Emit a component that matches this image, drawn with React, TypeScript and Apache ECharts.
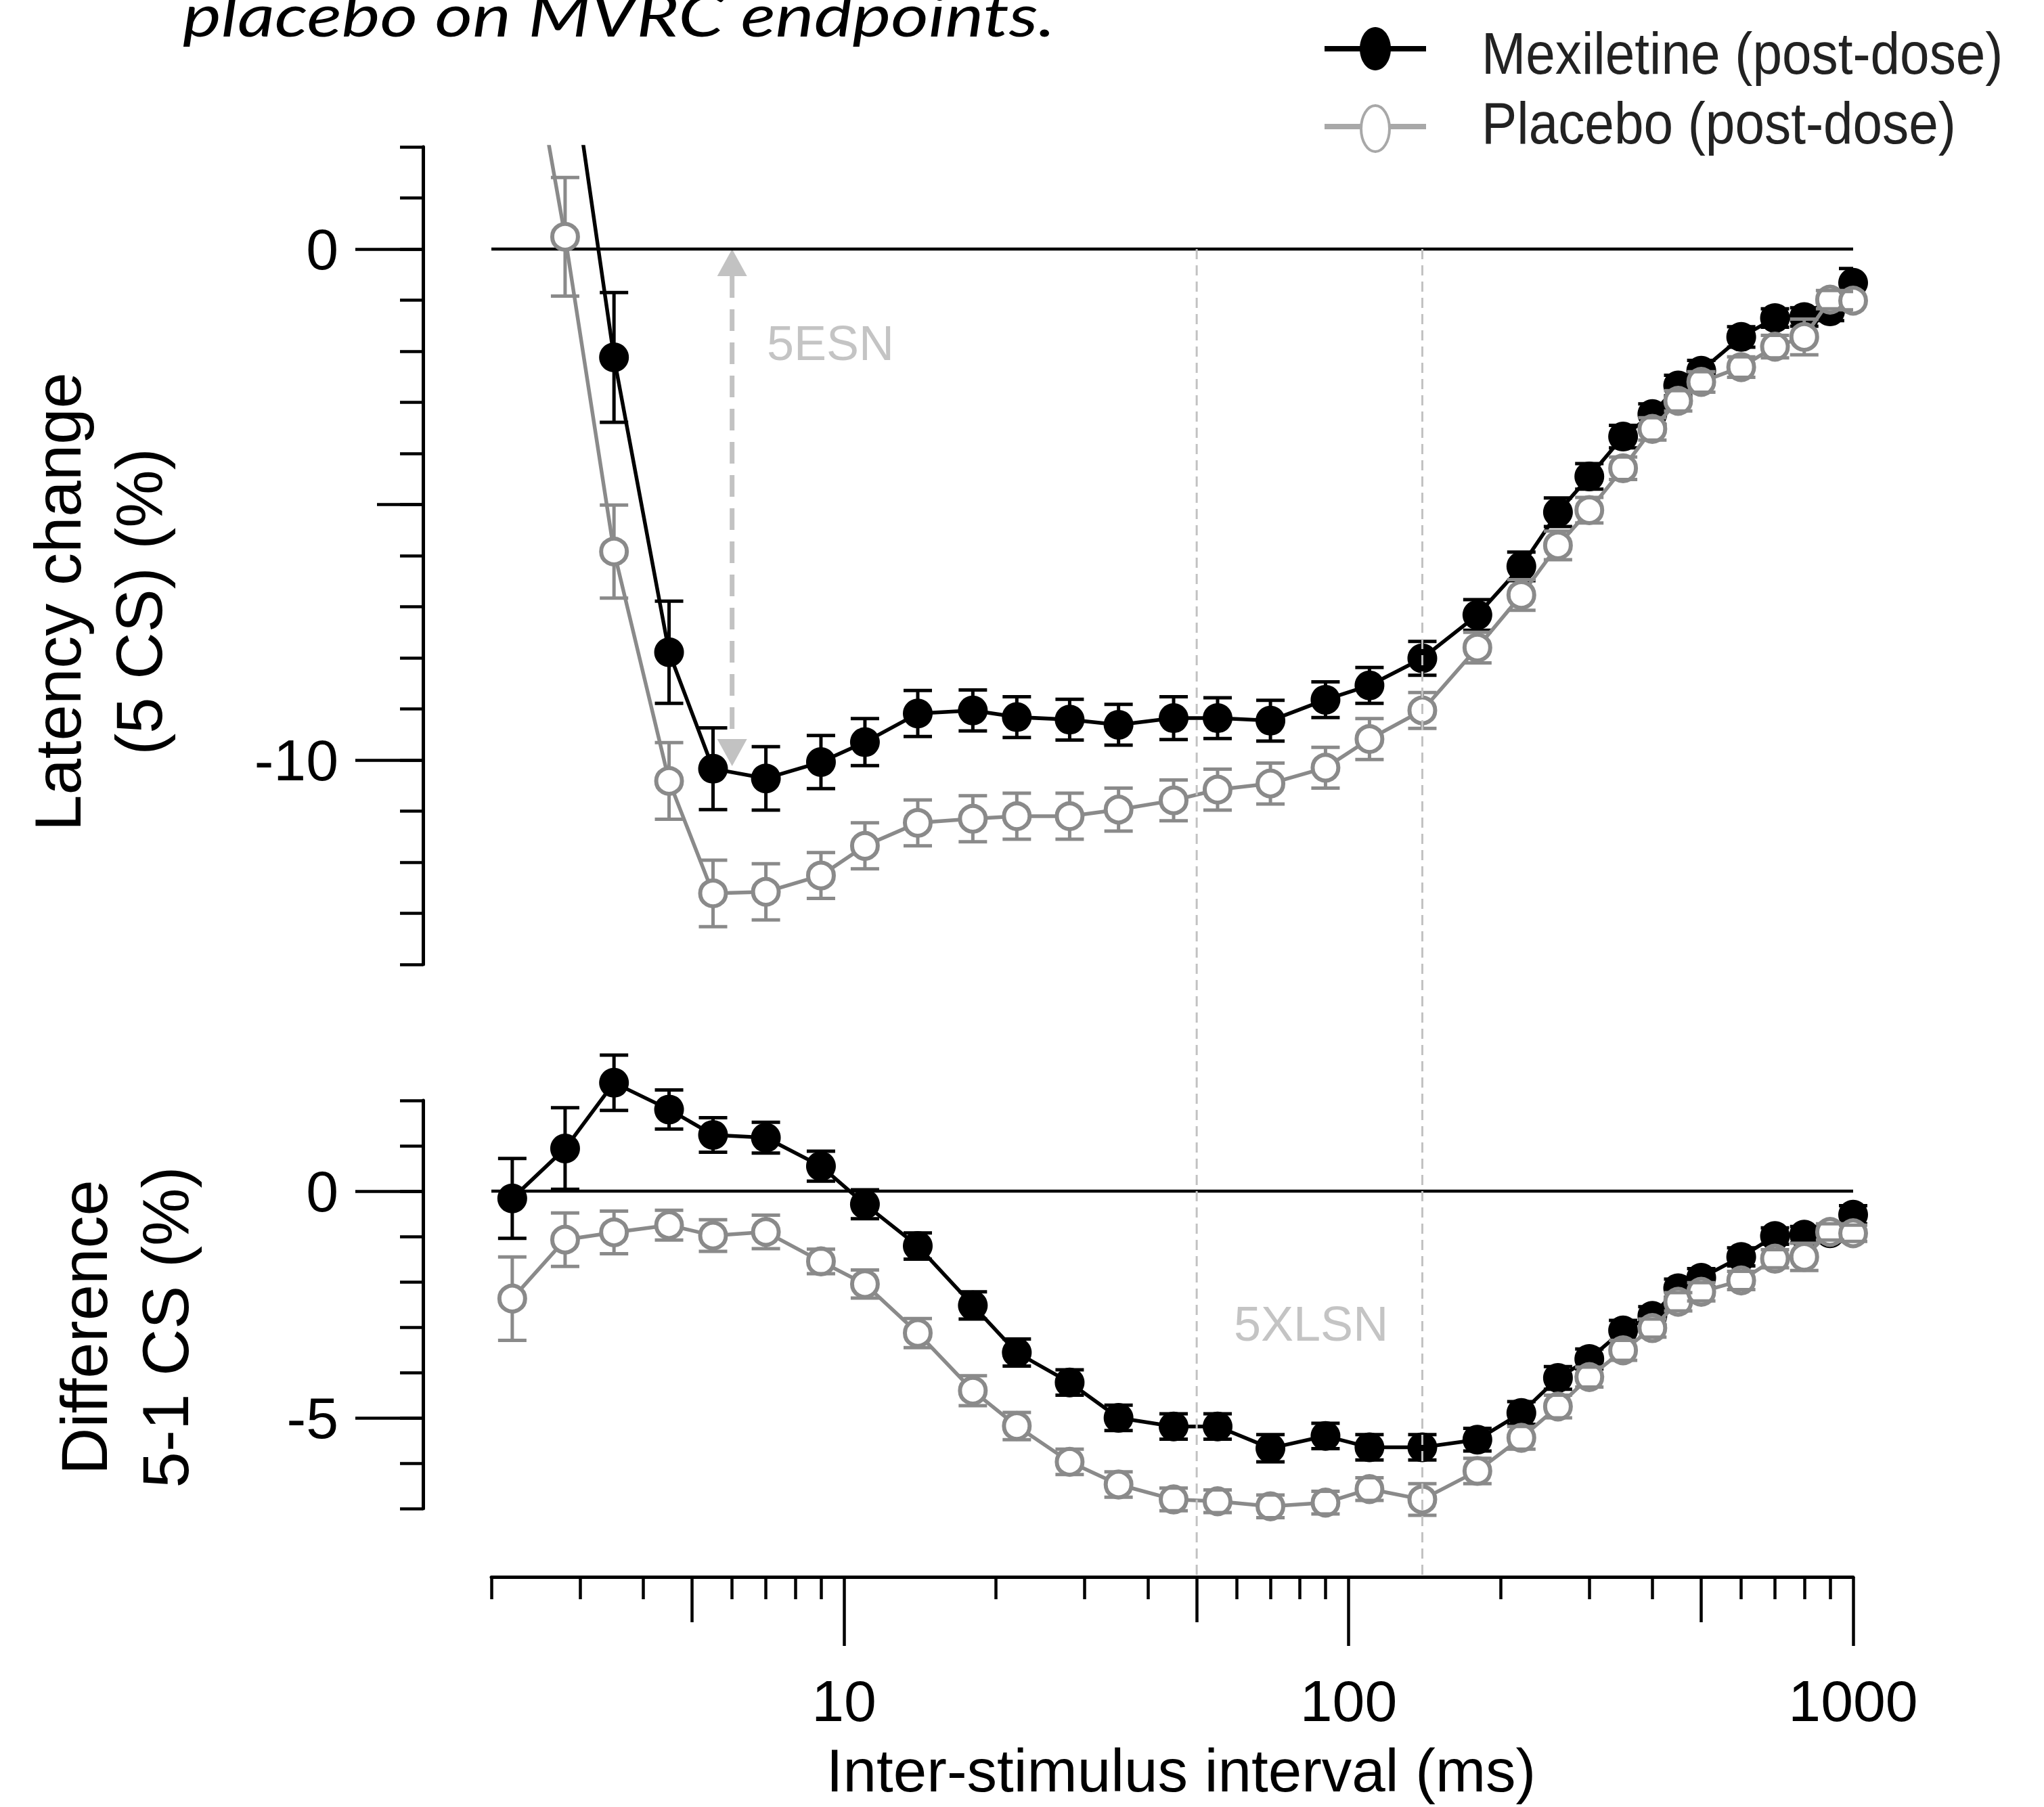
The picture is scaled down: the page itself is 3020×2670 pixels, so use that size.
import React, { useEffect, useRef } from 'react';
import * as echarts from 'echarts';

// Inter-stimulus intervals (ms)
const isi = [2.2, 2.8, 3.5, 4.5, 5.5, 7, 9, 11, 14, 18, 22, 28, 35, 45, 55, 70, 90, 110, 140, 180, 220, 260, 300, 350, 400, 450, 500, 600, 700, 800, 900, 1000];

// Top panel: latency change (5 CS) (%)
const mexLatency = [8.6, 4.5, -2.12, -7.89, -10.17, -10.36, -10.04, -9.65, -9.09, -9.03, -9.16, -9.21, -9.31, -9.18, -9.18, -9.23, -8.82, -8.54, -8.01, -7.16, -6.21, -5.15, -4.45, -3.67, -3.23, -2.67, -2.38, -1.72, -1.35, -1.33, -1.22, -0.66];
const mexLatencyErr = [1.5, 1.3, 1.27, 1.0, 0.8, 0.62, 0.52, 0.46, 0.45, 0.4, 0.4, 0.4, 0.4, 0.42, 0.4, 0.4, 0.35, 0.35, 0.33, 0.3, 0.28, 0.28, 0.25, 0.22, 0.2, 0.2, 0.2, 0.2, 0.18, 0.18, 0.18, 0.28];
const plaLatency = [6.1, 0.24, -5.92, -10.41, -12.61, -12.58, -12.26, -11.68, -11.23, -11.15, -11.1, -11.1, -10.97, -10.79, -10.58, -10.46, -10.15, -9.59, -9.03, -7.8, -6.77, -5.8, -5.11, -4.29, -3.52, -2.97, -2.6, -2.31, -1.91, -1.72, -0.99, -1.01];
const plaLatencyErr = [1.3, 1.16, 0.91, 0.75, 0.65, 0.55, 0.45, 0.45, 0.45, 0.45, 0.45, 0.45, 0.42, 0.4, 0.4, 0.4, 0.4, 0.4, 0.35, 0.3, 0.3, 0.28, 0.25, 0.22, 0.22, 0.2, 0.2, 0.2, 0.22, 0.35, 0.18, 0.18];

// Bottom panel: difference 5-1 CS (%)
const mexDiff = [-0.16, 0.94, 2.39, 1.8, 1.24, 1.18, 0.55, -0.29, -1.21, -2.52, -3.56, -4.22, -5.0, -5.19, -5.19, -5.67, -5.4, -5.65, -5.65, -5.48, -4.89, -4.12, -3.7, -3.07, -2.75, -2.14, -1.91, -1.45, -0.99, -0.96, -0.93, -0.52];
const mexDiffErr = [0.88, 0.9, 0.61, 0.43, 0.38, 0.34, 0.33, 0.32, 0.29, 0.3, 0.3, 0.28, 0.28, 0.28, 0.28, 0.3, 0.28, 0.28, 0.28, 0.25, 0.25, 0.25, 0.22, 0.22, 0.2, 0.2, 0.2, 0.2, 0.18, 0.18, 0.18, 0.2];
const plaDiff = [-2.37, -1.07, -0.91, -0.75, -0.98, -0.9, -1.55, -2.05, -3.13, -4.4, -5.18, -5.97, -6.47, -6.8, -6.84, -6.95, -6.87, -6.57, -6.8, -6.17, -5.44, -4.75, -4.1, -3.51, -3.02, -2.44, -2.22, -1.97, -1.49, -1.45, -0.9, -0.93];
const plaDiffErr = [0.92, 0.59, 0.47, 0.33, 0.35, 0.37, 0.27, 0.31, 0.32, 0.33, 0.3, 0.28, 0.28, 0.25, 0.25, 0.25, 0.25, 0.25, 0.35, 0.28, 0.25, 0.25, 0.22, 0.22, 0.2, 0.2, 0.2, 0.2, 0.2, 0.3, 0.18, 0.18];

// Tick values
const xMinorTicks = [2, 3, 4, 6, 7, 8, 9, 20, 30, 40, 60, 70, 80, 90, 200, 300, 400, 600, 700, 800, 900];
const xMidTicks = [5, 50, 500];
const xMajorTicks = [10, 100, 1000];
const latencyMinorTicks = [2, 1, 0, -1, -2, -3, -4, -5, -6, -7, -8, -9, -10, -11, -12, -13, -14];
const latencyMidTicks = [-5];
const latencyMajorTicks = [0, -10];
const diffMinorTicks = [2, 1, 0, -1, -2, -3, -4, -5, -6, -7];
const diffMajorTicks = [0, -5];

// Annotations
const xlsnWindow = [50, 140];
const esnArrow = [6, 0, -10.12];

const FONT = "'Liberation Sans', Arial, sans-serif";
const BLACK = '#000';
const GREY = '#8a8a8a';
const LIGHT = '#c2c2c2';
const tickStyle = { color: '#000', width: 4.5 };

const pts = (ys: number[]) => isi.map((x, i) => [x, ys[i]]);
const errs = (ys: number[], es: number[]) => isi.map((x, i) => [x, ys[i] - es[i], ys[i] + es[i]]);

const logX = (gridIndex: number, extra: any) => ({
  type: 'log', logBase: 10, min: 2, max: 1000, gridIndex, position: 'bottom',
  splitLine: { show: false }, minorTick: { show: false },
  axisLine: { show: false, onZero: false }, axisLabel: { show: false },
  ...extra,
});

const valY = (gridIndex: number, min: number, max: number, extra: any) => ({
  type: 'value', gridIndex, min, max, position: 'left', offset: 101,
  splitLine: { show: false }, axisLine: { show: false, onZero: false }, axisLabel: { show: false },
  ...extra,
});

const labelStyle = { fontSize: 86, fontFamily: FONT, color: '#000' };

const lineSeries = (data: number[][], xi: number, yi: number, filled: boolean, clip: boolean, z: number) => ({
  type: 'line', xAxisIndex: xi, yAxisIndex: yi, data, clip, z, silent: true,
  symbol: 'circle', symbolSize: filled ? 44 : 38, showAllSymbol: true,
  lineStyle: { color: filled ? BLACK : GREY, width: 5.5 },
  itemStyle: filled ? { color: BLACK } : { color: '#fff', borderColor: GREY, borderWidth: 6 },
});

// part: 'stem' draws the vertical bar (beneath markers); 'caps' draws the end caps (above markers)
const errSeries = (data: number[][], color: string, xi: number, yi: number, clip: boolean, z: number, part: string) => ({
  type: 'custom', xAxisIndex: xi, yAxisIndex: yi, data, clip, z, silent: true,
  encode: { x: 0, y: [1, 2] },
  renderItem: (params: any, api: any) => {
    const x = api.value(0);
    const lo = api.coord([x, api.value(1)]);
    const hi = api.coord([x, api.value(2)]);
    const hw = 21;
    const style = { stroke: color, lineWidth: 5, fill: 'none' };
    const children =
      part === 'stem'
        ? [{ type: 'line', shape: { x1: lo[0], y1: lo[1], x2: hi[0], y2: hi[1] }, style }]
        : [
            { type: 'line', shape: { x1: lo[0] - hw, y1: lo[1], x2: lo[0] + hw, y2: lo[1] }, style },
            { type: 'line', shape: { x1: hi[0] - hw, y1: hi[1], x2: hi[0] + hw, y2: hi[1] }, style },
          ];
    return { type: 'group', children };
  },
});

const option: any = {
  animation: false,
  backgroundColor: '#fff',
  textStyle: { fontFamily: FONT },
  grid: [
    { left: 726, width: 2012, top: 217, height: 1208, containLabel: false, outerBoundsMode: 'none' },
    { left: 726, width: 2012, top: 1626, height: 603, containLabel: false, outerBoundsMode: 'none' },
    { left: 726, width: 2012, top: 368, height: 1962, containLabel: false, outerBoundsMode: 'none' },
  ],
  xAxis: [
    logX(0, { show: false }),
    logX(1, {
      offset: 101,
      axisLine: { show: true, onZero: false, lineStyle: { color: '#000', width: 5 } },
      axisTick: { show: true, customValues: xMinorTicks, length: 33, lineStyle: tickStyle },
    }),
    logX(1, { offset: 101, axisTick: { show: true, customValues: xMidTicks, length: 67, lineStyle: tickStyle } }),
    logX(1, {
      offset: 101,
      axisTick: { show: true, customValues: xMajorTicks, length: 102, lineStyle: tickStyle },
      axisLabel: { show: true, customValues: xMajorTicks, margin: 140, formatter: (v: number) => String(Math.round(v)), ...labelStyle },
    }),
    logX(2, { show: false }),
  ],
  yAxis: [
    valY(0, -14, 2, {
      axisLine: { show: true, onZero: false, lineStyle: { color: '#000', width: 5 } },
      axisTick: { show: true, customValues: latencyMinorTicks, length: 34, lineStyle: tickStyle },
    }),
    valY(0, -14, 2, { axisTick: { show: true, customValues: latencyMidTicks, length: 68, lineStyle: tickStyle } }),
    valY(0, -14, 2, {
      axisTick: { show: true, customValues: latencyMajorTicks, length: 100, lineStyle: tickStyle },
      axisLabel: { show: true, customValues: latencyMajorTicks, margin: 125, formatter: (v: number) => String(v), ...labelStyle },
    }),
    valY(1, -7, 2, {
      axisLine: { show: true, onZero: false, lineStyle: { color: '#000', width: 5 } },
      axisTick: { show: true, customValues: diffMinorTicks, length: 34, lineStyle: tickStyle },
    }),
    valY(1, -7, 2, {
      axisTick: { show: true, customValues: diffMajorTicks, length: 100, lineStyle: tickStyle },
      axisLabel: { show: true, customValues: diffMajorTicks, margin: 125, formatter: (v: number) => String(v), ...labelStyle },
    }),
    { type: 'value', gridIndex: 2, min: 0, max: 1, show: false },
  ],
  series: [
    // zero reference lines
    { type: 'line', xAxisIndex: 0, yAxisIndex: 0, data: [[2, 0], [1000, 0]], symbol: 'none', silent: true, z: 1, lineStyle: { color: '#000', width: 4.5 } },
    { type: 'line', xAxisIndex: 1, yAxisIndex: 3, data: [[2, 0], [1000, 0]], symbol: 'none', silent: true, z: 1, lineStyle: { color: '#000', width: 4.5 } },
    // 5ESN arrow
    {
      type: 'custom', xAxisIndex: 0, yAxisIndex: 0, z: 1, silent: true, clip: false,
      data: [esnArrow], encode: { x: 0, y: [1, 2] },
      renderItem: (params: any, api: any) => {
        const x = api.value(0);
        const top = api.coord([x, api.value(1)]);
        const bot = api.coord([x, api.value(2)]);
        const hw = 22, hh = 40;
        return {
          type: 'group',
          children: [
            { type: 'line', shape: { x1: top[0], y1: top[1] + hh, x2: bot[0], y2: bot[1] - hh }, style: { stroke: LIGHT, lineWidth: 7, lineDash: [32, 17] } },
            { type: 'polygon', shape: { points: [[top[0], top[1]], [top[0] - hw, top[1] + hh], [top[0] + hw, top[1] + hh]] }, style: { fill: LIGHT } },
            { type: 'polygon', shape: { points: [[bot[0], bot[1]], [bot[0] - hw, bot[1] - hh], [bot[0] + hw, bot[1] - hh]] }, style: { fill: LIGHT } },
          ],
        };
      },
    },
    // top panel
    errSeries(errs(mexLatency, mexLatencyErr), BLACK, 0, 0, true, 2, 'stem'),
    lineSeries(pts(mexLatency), 0, 0, true, true, 3),
    errSeries(errs(mexLatency, mexLatencyErr), BLACK, 0, 0, true, 4, 'caps'),
    errSeries(errs(plaLatency, plaLatencyErr), GREY, 0, 0, true, 5, 'stem'),
    lineSeries(pts(plaLatency), 0, 0, false, true, 6),
    errSeries(errs(plaLatency, plaLatencyErr), GREY, 0, 0, true, 7, 'caps'),
    // bottom panel
    errSeries(errs(mexDiff, mexDiffErr), BLACK, 1, 3, false, 2, 'stem'),
    lineSeries(pts(mexDiff), 1, 3, true, false, 3),
    errSeries(errs(mexDiff, mexDiffErr), BLACK, 1, 3, false, 4, 'caps'),
    errSeries(errs(plaDiff, plaDiffErr), GREY, 1, 3, false, 5, 'stem'),
    lineSeries(pts(plaDiff), 1, 3, false, false, 6),
    errSeries(errs(plaDiff, plaDiffErr), GREY, 1, 3, false, 7, 'caps'),
    // 5XLSN window lines
    ...xlsnWindow.map((v) => ({
      type: 'line', xAxisIndex: 4, yAxisIndex: 5, data: [[v, 1], [v, 0]], symbol: 'none', silent: true, z: 8,
      lineStyle: { color: LIGHT, width: 3, type: [15, 9] },
    })),
  ],
  graphic: [
    {
      type: 'text', x: 270, y: 20, scaleX: 1.22, z: 10,
      style: { text: 'placebo on MVRC endpoints.', fontFamily: 'Lato, "Open Sans", sans-serif', fontStyle: 'italic', fontSize: 88, fill: '#000', align: 'left', verticalAlign: 'middle' },
    },
    { type: 'line', shape: { x1: 1957, y1: 72, x2: 2107, y2: 72 }, style: { stroke: '#000', lineWidth: 8 } },
    { type: 'ellipse', shape: { cx: 2032, cy: 72, rx: 23, ry: 32 }, style: { fill: '#000' } },
    {
      type: 'text', x: 2189, y: 79, scaleX: 0.89,
      style: { text: 'Mexiletine (post-dose)', fontFamily: FONT, fontSize: 88, fill: '#222', align: 'left', verticalAlign: 'middle' },
    },
    { type: 'line', shape: { x1: 1957, y1: 187, x2: 2107, y2: 187 }, style: { stroke: '#a8a8a8', lineWidth: 8 } },
    { type: 'ellipse', shape: { cx: 2032, cy: 190, rx: 21, ry: 34 }, style: { fill: '#fff', stroke: '#a8a8a8', lineWidth: 4 } },
    {
      type: 'text', x: 2189, y: 182, scaleX: 0.89,
      style: { text: 'Placebo (post-dose)', fontFamily: FONT, fontSize: 88, fill: '#222', align: 'left', verticalAlign: 'middle' },
    },
    {
      type: 'text', x: 145, y: 889, rotation: Math.PI / 2,
      style: { text: 'Latency change\n(5 CS) (%)', fontFamily: FONT, fontSize: 96, lineHeight: 120, fill: '#000', align: 'center', verticalAlign: 'middle' },
    },
    {
      type: 'text', x: 184, y: 1961, rotation: Math.PI / 2,
      style: { text: 'Difference\n5-1 CS (%)', fontFamily: FONT, fontSize: 96, lineHeight: 120, fill: '#000', align: 'center', verticalAlign: 'middle' },
    },
    {
      type: 'text', x: 1745, y: 2616,
      style: { text: 'Inter-stimulus interval (ms)', fontFamily: FONT, fontSize: 89, fill: '#000', align: 'center', verticalAlign: 'middle' },
    },
    {
      type: 'text', x: 1133, y: 507,
      style: { text: '5ESN', fontFamily: FONT, fontSize: 72, fill: '#c4c4c4', align: 'left', verticalAlign: 'middle' },
    },
    {
      type: 'text', x: 1823, y: 1956,
      style: { text: '5XLSN', fontFamily: FONT, fontSize: 72, fill: '#c4c4c4', align: 'left', verticalAlign: 'middle' },
    },
  ],
};

export default function App() {
  const ref = useRef<HTMLDivElement>(null);
  useEffect(() => {
    const chart = echarts.init(ref.current as HTMLDivElement, null, { renderer: 'svg' });
    chart.setOption(option);
    return () => chart.dispose();
  }, []);
  return (
    <div
      ref={ref}
      style={{ position: 'fixed', left: 0, top: 0, width: 3020, height: 2670, background: '#fff' }}
    />
  );
}
